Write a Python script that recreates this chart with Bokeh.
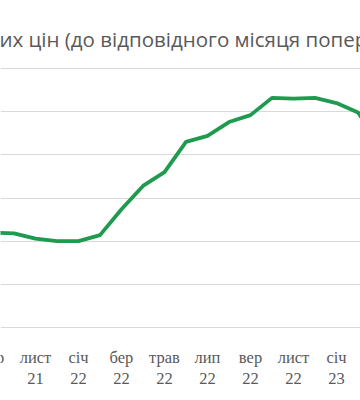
from bokeh.plotting import figure
from bokeh.models import Range1d, FixedTicker, Label, LabelSet, ColumnDataSource
from bokeh.embed import file_html
from bokeh.resources import INLINE

# Ukraine CPI, % y/y (to the same month of previous year), Sep 2021 - Mar 2023
months = ["вер", "жовт", "лист", "груд", "січ", "лют", "бер", "квіт", "трав",
          "черв", "лип", "серп", "вер", "жовт", "лист", "груд", "січ", "лют", "бер"]
years = ["21", "21", "21", "21", "22", "22", "22", "22", "22",
         "22", "22", "22", "22", "22", "22", "22", "23", "23", "23"]
cpi = [11.0, 10.9, 10.3, 10.0, 10.0, 10.7, 13.7, 16.4, 18.0,
       21.5, 22.2, 23.8, 24.6, 26.6, 26.5, 26.6, 26.0, 24.9, 21.3]
grid_values = [0, 5, 10, 15, 20, 25, 30]
title_text = "Індекс споживчих цін (до відповідного місяця попереднього року)"

idx = list(range(len(cpi)))
tick_idx = idx[::2]

TEXT = "#595959"
GRID = "#d9d9d9"
FONT = "Open Sans"

PX_X = 21.5    # px per month
PX_Y = 8.633   # px per percentage point
Y0 = 327       # screen y of the 0 line (from top)

p = figure(width=360, height=400, output_backend="svg", toolbar_location=None,
           x_range=Range1d(8 / PX_X, 368 / PX_X),
           y_range=Range1d(-(400 - Y0) / PX_Y, Y0 / PX_Y),
           x_axis_location=None, y_axis_location=None,
           min_border=0,
           styles={"position": "absolute", "left": "0px", "top": "0px"})
p.outline_line_color = None
p.background_fill_color = "white"
p.border_fill_color = "white"

p.xgrid.visible = False
p.ygrid.ticker = FixedTicker(ticks=grid_values)
p.ygrid.grid_line_color = GRID
p.ygrid.grid_line_width = 1

p.line(idx, cpi, line_color="#1e9b4e", line_width=3.8, line_join="round", line_cap="round")

src = ColumnDataSource(dict(x=tick_idx,
                            m=[months[i] for i in tick_idx],
                            yr=[years[i] for i in tick_idx]))
for col, ys in (("m", 400 - 362), ("yr", 400 - 383)):
    p.add_layout(LabelSet(x="x", y=ys, y_units="screen", text=col, source=src,
                          text_font=FONT, text_font_size="16.5px", text_color=TEXT,
                          text_align="center", text_baseline="alphabetic"))

title = Label(x=-156, y=400 - 38, x_units="screen", y_units="screen", text=title_text,
              text_font=FONT, text_font_size="20.5px", text_color=TEXT,
              text_align="left", text_baseline="alphabetic")
p.add_layout(title)

open("out.html", "w").write(file_html(p, INLINE))
